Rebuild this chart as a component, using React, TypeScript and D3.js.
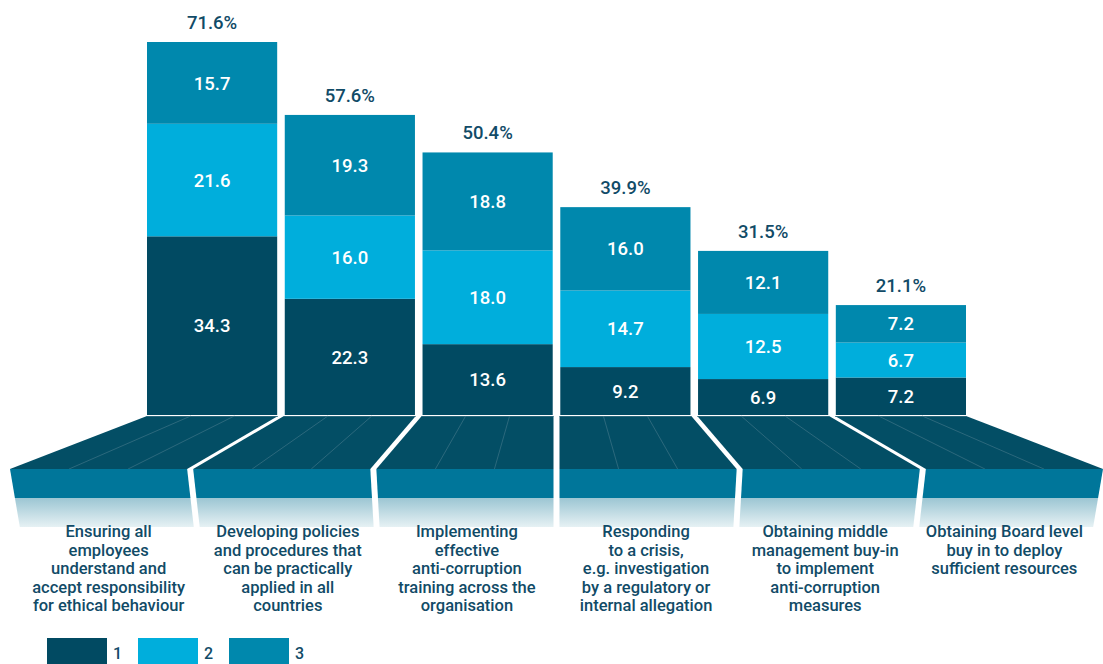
import * as d3 from "d3";

const categories = [
  ["Ensuring all", "employees", "understand and", "accept responsibility", "for ethical behaviour"],
  ["Developing policies", "and procedures that", "can be practically", "applied in all", "countries"],
  ["Implementing", "effective", "anti-corruption", "training across the", "organisation"],
  ["Responding", "to a crisis,", "e.g. investigation", "by a regulatory or", "internal allegation"],
  ["Obtaining middle", "management buy-in", "to implement", "anti-corruption", "measures"],
  ["Obtaining Board level", "buy in to deploy", "sufficient resources"],
];
const series1 = [34.3, 22.3, 13.6, 9.2, 6.9, 7.2];
const series2 = [21.6, 16.0, 18.0, 14.7, 12.5, 6.7];
const series3 = [15.7, 19.3, 18.8, 16.0, 12.1, 7.2];
const totals = ["71.6%", "57.6%", "50.4%", "39.9%", "31.5%", "21.1%"];
const seriesNames = ["1", "2", "3"];

const colors = ["#014a62", "#00aedc", "#0088ad"];
const textColor = "#114b67";
const font = "Roboto, 'Liberation Sans', Arial, sans-serif";

const W = 1103;
const H = 664;
const baseY = 415;
const backY = 416;
const frontY = 469;
const faceY = 498;
const fadeY = 527;
const cx = 556;

export default function App() {
  const idx = d3.range(categories.length);

  const x = d3
    .scaleBand<number>()
    .domain(idx)
    .range([147, 966])
    .paddingInner(0.055);

  const xFront = d3
    .scaleBand<number>()
    .domain(idx)
    .range([10, 1103])
    .paddingInner(0.033);

  const y = d3.scaleLinear().domain([0, 71.6]).range([baseY, 42]);

  // slight perspective squeeze of the front face
  const squeeze = d3.scaleLinear().domain([frontY, fadeY]).range([1, 0.982]);
  const px = (xv: number, yv: number) => cx + (xv - cx) * squeeze(yv);

  const stack = d3
    .stack<number>()
    .keys(["0", "1", "2"])
    .value((i, key) => [series1, series2, series3][+key][i]);
  const stacked = stack(idx);

  const poly = (pts: [number, number][]) => d3.line()(pts.concat([pts[0]])) ?? "";

  // back edges of the platform: bar edges, extended to the middle of each gap
  const half = (x.step() - x.bandwidth()) / 2;
  const backEdges = idx.map((i) => [
    i === 0 ? x(i)! : x(i)! - half + 3,
    i === idx.length - 1 ? x(i)! + x.bandwidth() : x(i)! + x.bandwidth() + half - 3,
  ]);

  return (
    <svg width={W} height={H} style={{ position: "absolute", left: 0, top: 0 }}>
      <defs>
        <linearGradient id="fade" x1="0" y1="0" x2="0" y2="1">
          <stop offset="0" stopColor="#9cc6d3" />
          <stop offset="1" stopColor="#e6f1f4" />
        </linearGradient>
      </defs>

      {/* Platform */}
      {idx.map((i) => {
        const [b0, b1] = backEdges[i];
        const f0 = xFront(i)!;
        const f1 = f0 + xFront.bandwidth();
        const lines = [1 / 3, 2 / 3].map((t) => [
          b0 + (b1 - b0) * t,
          f0 + (f1 - f0) * t,
        ]);
        return (
          <g key={i}>
            <path
              d={poly([[b0, backY], [b1, backY], [f1, frontY], [f0, frontY]])}
              fill="#034e65"
            />
            {lines.map(([a, b], k) => (
              <line
                key={k}
                x1={a}
                y1={backY}
                x2={b}
                y2={frontY}
                stroke="#3d7487"
                strokeWidth={0.7}
              />
            ))}
            <line x1={b0} x2={b1} y1={backY + 0.5} y2={backY + 0.5} stroke="#3d7487" strokeWidth={0.7} />
            <path
              d={poly([[f0, frontY], [f1, frontY], [px(f1, faceY), faceY], [px(f0, faceY), faceY]])}
              fill="#00769a"
            />
            <path
              d={poly([[px(f0, faceY), faceY], [px(f1, faceY), faceY], [px(f1, fadeY), fadeY], [px(f0, fadeY), fadeY]])}
              fill="url(#fade)"
            />
          </g>
        );
      })}

      {/* Bars */}
      {stacked.map((layer, s) =>
        layer.map((d, i) => {
          const y0 = y(d[0]);
          const y1 = y(d[1]);
          const v = [series1, series2, series3][s][i];
          return (
            <g key={`${s}-${i}`}>
              <rect x={x(i)} y={y1} width={x.bandwidth()} height={y0 - y1} fill={colors[s]} />
              <text
                x={x(i)! + x.bandwidth() / 2}
                y={(y0 + y1) / 2}
                dy="0.36em"
                textAnchor="middle"
                fill="#fff"
                fontFamily={font}
                fontWeight={500}
                fontSize={18.5}
              >
                {v.toFixed(1)}
              </text>
            </g>
          );
        })
      )}

      {/* Totals */}
      {idx.map((i) => (
        <text
          key={i}
          x={x(i)! + x.bandwidth() / 2}
          y={y(stacked[2][i][1]) - 20}
          dy="0.36em"
          textAnchor="middle"
          fill={textColor}
          fontFamily={font}
          fontWeight={500}
          fontSize={18.5}
        >
          {totals[i]}
        </text>
      ))}

      {/* Category labels */}
      {categories.map((lines, i) => {
        const c = px(xFront(i)! + xFront.bandwidth() / 2, 540);
        return (
          <text
            key={i}
            textAnchor="middle"
            fill={textColor}
            fontFamily={font}
            fontWeight={500}
            fontSize={16.5}
          >
            {lines.map((l, k) => (
              <tspan key={k} x={c} y={531 + k * 18.6} dy="0.36em">
                {l}
              </tspan>
            ))}
          </text>
        );
      })}

      {/* Legend */}
      {seriesNames.map((n, k) => {
        const lx = [47, 138, 229][k];
        return (
          <g key={n}>
            <rect x={lx} y={638} width={60} height={30} fill={colors[k]} />
            <text
              x={lx + 66}
              y={659}
              fill={textColor}
              fontFamily={font}
              fontWeight={500}
              fontSize={16}
            >
              {n}
            </text>
          </g>
        );
      })}
    </svg>
  );
}
